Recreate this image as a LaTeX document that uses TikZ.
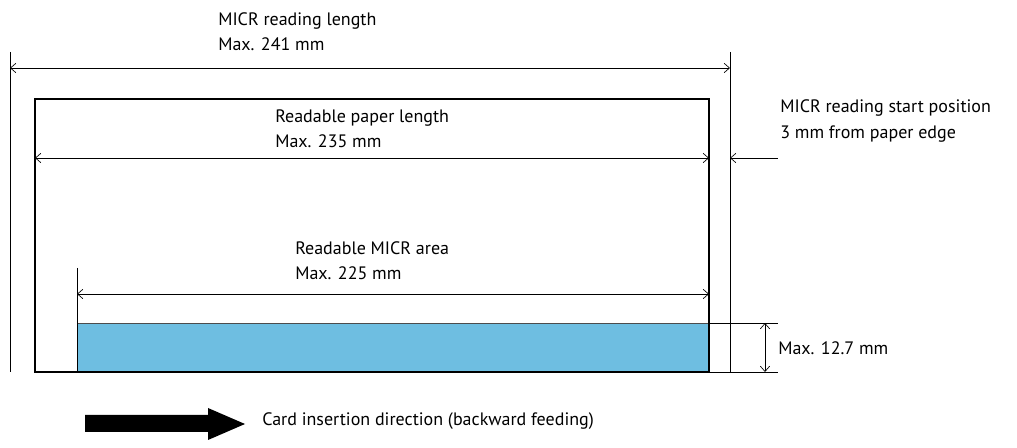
\documentclass[tikz,border=0pt]{standalone}
\usepackage{fontspec}
\setmainfont{PT Sans}
\usetikzlibrary{arrows.meta}

\begin{document}
\begin{tikzpicture}[x=0.75pt,y=-0.75pt,>={Straight Barb[length=4pt,width=7pt]},
                    font=\fontsize{13.5}{16}\selectfont]
  \tikzstyle{dim}=[<->,line width=0.5pt]
  \tikzstyle{ext}=[line width=0.5pt]
  \tikzstyle{label}=[anchor=west,inner sep=0pt,align=left]
  \useasboundingbox (0,0) rectangle (1017,448);

  % extension lines
  \coordinate (lt) at (10,52);   \coordinate (lb) at (10,372);
  \coordinate (rt) at (730,52);  \coordinate (rb) at (730,372);
  \draw[ext] (lt) -- (lb);
  \draw[ext] (rt) -- (rb);

  % paper and readable area
  \filldraw[fill={rgb,255:red,110;green,190;blue,225},draw=black!70,line width=0.4pt]
    (77,323) rectangle (709,372);
  \draw[line width=1.8pt] (35,99) rectangle (709,372);
  \coordinate (al) at (77,268); \coordinate (ab) at (77,372);
  \draw[ext] (al) -- (ab);
  \coordinate (et) at (709,323); \coordinate (ee) at (778,323);
  \coordinate (eb) at (709,372); \coordinate (ef) at (778,372);
  \draw[ext] (et) -- (ee);
  \draw[ext] (eb) -- (ef);

  % dimensions
  \draw[dim] (10,68) -- (730,68);
  \draw[dim] (35,158) -- (709,158);
  \draw[dim] (77,294) -- (709,294);
  \coordinate (sp) at (730,158); \coordinate (se) at (778,158);
  \draw[ext,<-] (sp) -- (se);
  \coordinate (ht) at (765,323); \coordinate (hb) at (765,372);
  \draw[dim] (ht) -- (hb);

  \node[label] (len)   at (218,32)  {MICR reading length\\[3pt]Max. 241 mm};
  \node[label] (paper) at (275,129) {Readable paper length\\[3pt]Max. 235 mm};
  \node[label] (start) at (780,121) {MICR reading start position\\[3pt]3 mm from paper edge};
  \node[label] (area)  at (295,261) {Readable MICR area\\[3pt]Max. 225 mm};
  \node[label] (high)  at (778,348) {Max. 12.7 mm};

  % insertion direction
  \fill (85,415) -- (208,415) -- (208,408) -- (245,424) -- (208,440)
        -- (208,432) -- (85,432) -- cycle;
  \node[label] (card) at (262,421) {Card insertion direction (backward feeding)};
\end{tikzpicture}
\end{document}
